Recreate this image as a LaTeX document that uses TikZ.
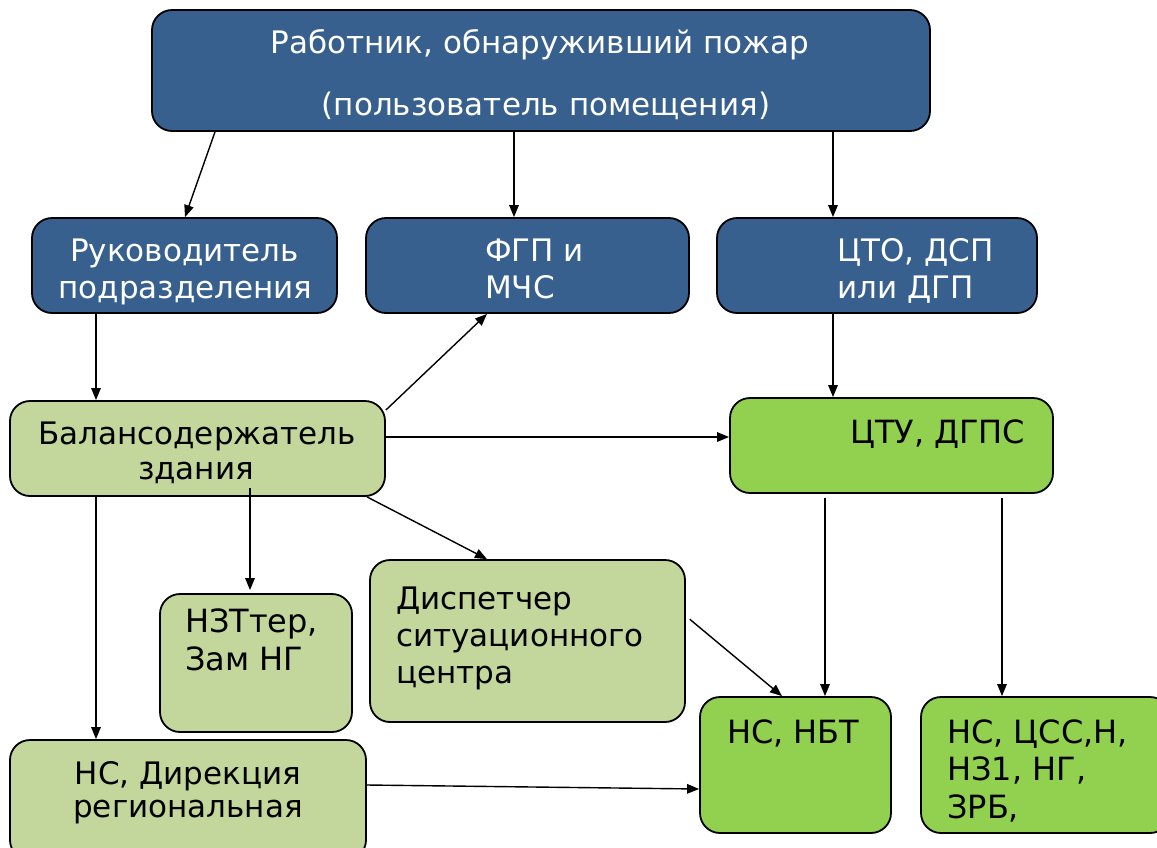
\documentclass[tikz,border=0pt]{standalone}
\usepackage{fontspec}
\setmainfont{DejaVu Sans}
\usetikzlibrary{arrows.meta}
\definecolor{dblue}{HTML}{37608F}
\definecolor{lgreen}{HTML}{C3D69B}
\definecolor{bgreen}{HTML}{92D050}
\begin{document}
\begin{tikzpicture}[x=1pt,y=-1pt,
  boxbase/.style={draw=black, line width=1.8pt, rounded corners=20pt, inner sep=0pt},
  bluebox/.style={boxbase, fill=dblue},
  lgbox/.style={boxbase, fill=lgreen},
  bgbox/.style={boxbase, fill=bgreen},
  wtxt/.style={text=white, inner sep=0pt, font=\fontsize{31}{37}\selectfont},
  btxt/.style={text=black, inner sep=0pt, font=\fontsize{31}{37}\selectfont},
  bigtxt/.style={text=black, inner sep=0pt, font=\fontsize{32}{38}\selectfont},
  arr/.style={line width=1.4pt, -{Triangle[length=12pt,width=9.5pt]}}]
\clip (0,0) rectangle (1157,847);
\fill[white] (0,0) rectangle (1157,847);
% boxes
\node[bluebox, minimum width=778pt, minimum height=121pt] (top) at (541,70.5) {};
\node[bluebox, minimum width=305pt, minimum height=95pt] (ruk) at (184.5,265.5) {};
\node[bluebox, minimum width=323pt, minimum height=95pt] (fgp) at (527.5,265.5) {};
\node[bluebox, minimum width=320pt, minimum height=95pt] (cto) at (877,265.5) {};
\node[lgbox, minimum width=375pt, minimum height=95pt] (bal) at (197.5,448.5) {};
\node[bgbox, minimum width=323pt, minimum height=95pt] (ctu) at (891.5,445.5) {};
\node[lgbox, minimum width=192pt, minimum height=138pt] (nzt) at (256,663) {};
\node[lgbox, minimum width=315pt, minimum height=162pt] (disp) at (527.5,641) {};
\node[bgbox, minimum width=191pt, minimum height=136pt] (nbt) at (795.5,765) {};
\node[bgbox, minimum width=249pt, minimum height=136pt] (ncss) at (1045.5,765) {};
\node[lgbox, minimum width=356pt, minimum height=120pt] (dir) at (188,800) {};
% texts
\node[wtxt, anchor=base] (t1a) at (540,53) {Работник, обнаруживший пожар};
\node[wtxt, anchor=base] (t1b) at (546,115) {(пользователь помещения)};
\node[wtxt, anchor=base] (t2a) at (184.5,261) {Руководитель};
\node[wtxt, anchor=base] (t2b) at (185.5,298) {подразделения};
\node[wtxt, anchor=base west] (t3a) at (485,261) {ФГП и};
\node[wtxt, anchor=base west] (t3b) at (485,298) {МЧС};
\node[wtxt, anchor=base west] (t4a) at (837,261) {ЦТО, ДСП};
\node[wtxt, anchor=base west] (t4b) at (837,298) {или ДГП};
\node[btxt, anchor=base] (t5a) at (197,444) {Балансодержатель};
\node[btxt, anchor=base] (t5b) at (196,479) {здания};
\node[bigtxt, anchor=base west] (t6) at (850,443) {ЦТУ, ДГПС};
\node[bigtxt, anchor=base west] (t7a) at (185,632) {НЗТтер,};
\node[bigtxt, anchor=base west] (t7b) at (185,670) {Зам НГ};
\node[btxt, anchor=base west] (t8a) at (396,609) {Диспетчер};
\node[btxt, anchor=base west] (t8b) at (396,646) {ситуационного};
\node[btxt, anchor=base west] (t8c) at (396,683) {центра};
\node[bigtxt, anchor=base west] (t9) at (727,743) {НС, НБТ};
\node[bigtxt, anchor=base west] (t10a) at (947,743) {НС, ЦСС,Н,};
\node[bigtxt, anchor=base west] (t10b) at (947,780) {НЗ1, НГ,};
\node[bigtxt, anchor=base west] (t10c) at (947,818) {ЗРБ,};
\node[btxt, anchor=base] (t11a) at (188,784) {НС, Дирекция};
\node[btxt, anchor=base] (t11b) at (188,817) {региональная};
% connectors
\draw[arr] (215,0 |- top.south) -- (185,0 |- ruk.north);
\draw[arr] (514,0 |- top.south) -- (514,0 |- fgp.north);
\draw[arr] (833,0 |- top.south) -- (833,0 |- cto.north);
\draw[arr] (96,0 |- ruk.south) -- (96,0 |- bal.north);
\draw[arr] (bal.east |- 0,410) -- (487,0 |- fgp.south);
\draw[arr] (bal.east |- 0,437) -- (ctu.west |- 0,437);
\draw[arr] (833,0 |- cto.south) -- (833,0 |- ctu.north);
\coordinate (balin) at (250,488);
\draw[arr, shorten >=3pt] (balin) -- (250,0 |- nzt.north);
\draw[arr] (96,0 |- bal.south) -- (96,0 |- dir.north);
\draw[arr] (367,0 |- bal.south) -- (487,0 |- disp.north);
\draw[arr, shorten <=5pt] (disp.east |- 0,616) -- (782,0 |- nbt.north);
\draw[arr, shorten <=4pt] (825,0 |- ctu.south) -- (825,0 |- nbt.north);
\draw[arr, shorten <=4pt] (1002,0 |- ctu.south) -- (1002,0 |- ncss.north);
\draw[arr] (dir.east |- 0,785) -- (nbt.west |- 0,789);
\end{tikzpicture}
\end{document}
